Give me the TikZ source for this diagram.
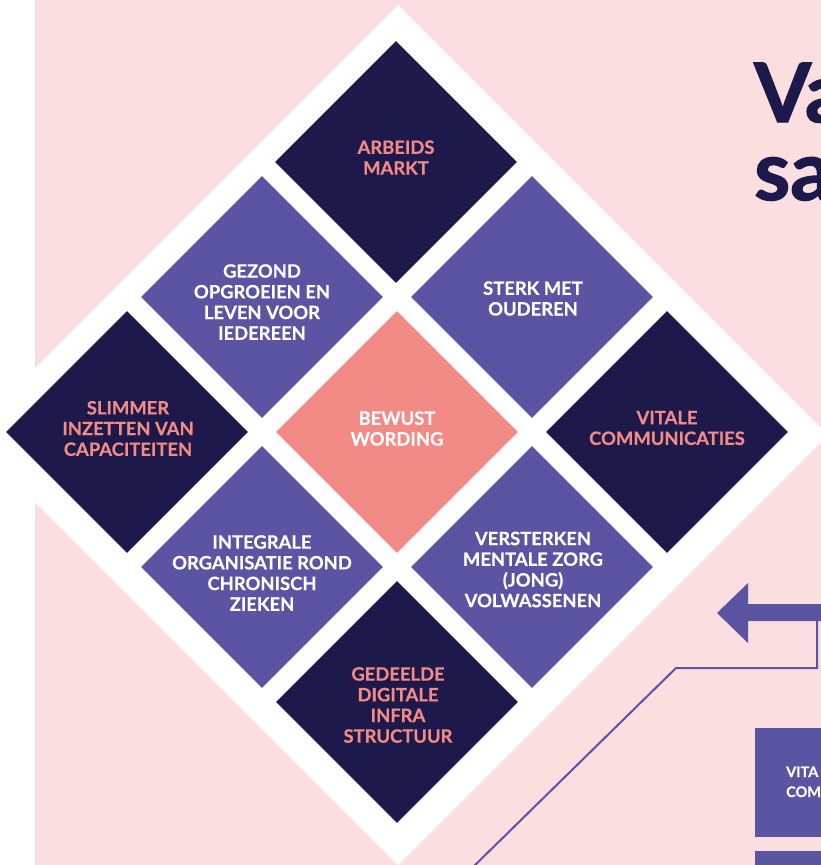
\documentclass[tikz,border=0pt]{standalone}
\usepackage{fontspec}
\setmainfont{Lato}
\newfontfamily\labelfont[FakeBold=0.35]{Lato}
\newfontfamily\titlefont[FakeBold=1.6]{Lato}
\usetikzlibrary{shapes.geometric}
\definecolor{navy}{HTML}{1D1A4B}
\definecolor{purp}{HTML}{5A54A3}
\definecolor{salmon}{HTML}{F28A86}
\definecolor{pinkbg}{HTML}{FBDEE0}
\begin{document}
\begin{tikzpicture}[x=1pt,y=-1pt,
  dia/.style={diamond, aspect=1, inner sep=0pt, minimum width=242pt, minimum height=242pt, draw=none},
  lbl/.style={align=center, font=\labelfont\bfseries\fontsize{18.4}{20.7}\selectfont, inner sep=0pt},
  big/.style={anchor=base west, inner sep=0pt, text=navy, font=\titlefont\bfseries\fontsize{82}{82}\selectfont},
  small/.style={anchor=base west, inner sep=0pt, text=white, align=left, font=\labelfont\bfseries\fontsize{14.5}{20}\selectfont}]
\useasboundingbox (0,0) rectangle (821,865);
\clip (0,0) rectangle (821,865);
\fill[white] (0,0) rectangle (821,865);
\fill[pinkbg] (35,0) rectangle (821,865);
% big white diamond
\fill[white] (398,5) -- (828,435) -- (398,865) -- (-32,435) -- cycle;
% inner diamonds
\node[dia, fill=navy]   (arb) at (396,162) {};
\node[dia, fill=purp]   (gez) at (262,297) {};
\node[dia, fill=purp]   (ste) at (532,297) {};
\node[dia, fill=navy]   (sli) at (127,432) {};
\node[dia, fill=salmon] (bew) at (397,432) {};
\node[dia, fill=navy]   (vit) at (667,432) {};
\node[dia, fill=purp]   (int) at (262,567) {};
\node[dia, fill=purp]   (ver) at (532,567) {};
\node[dia, fill=navy]   (ged) at (397,702) {};
% labels
\node[lbl, text=salmon] (arbT) at (396,157.5) {ARBEIDS\\MARKT};
\node[lbl, text=white]  (gezT) at (262,302) {GEZOND\\OPGROEIEN EN\\LEVEN VOOR\\IEDEREEN};
\node[lbl, text=white]  (steT) at (533,298.5) {STERK MET\\OUDEREN};
\node[lbl, text=salmon] (sliT) at (128,428.5) {SLIMMER\\INZETTEN VAN\\CAPACITEITEN};
\node[lbl, text=white]  (bewT) at (397,428.5) {BEWUST\\WORDING};
\node[lbl, text=salmon] (vitT) at (667,428) {VITALE\\COMMUNICATIES};
\node[lbl, text=white]  (intT) at (262,573) {INTEGRALE\\ORGANISATIE ROND\\CHRONISCH\\ZIEKEN};
\node[lbl, text=white]  (verT) at (533,569.5) {VERSTERKEN\\MENTALE ZORG\\(JONG)\\VOLWASSENEN};
\node[lbl, text=salmon] (gedT) at (398,705) {GEDEELDE\\DIGITALE\\INFRA\\STRUCTUUR};
% title (cut off at the edge, as in the reference)
\node[big] (t1) at (754,122) {Va};
\node[big] (t2) at (754,200) {sa};
% arrow
\coordinate (tip) at (717,613);
\fill[purp] (tip) -- (748,583) -- (748,604) -- (830,604) -- (830,621) -- (748,621) -- (748,643) -- cycle;
% thin connector
\coordinate (c1) at (817,621);
\coordinate (c2) at (817,668);
\coordinate (c3) at (676,668);
\coordinate (c4) at (470,870);
\draw[purp, line width=2pt] (c1) -- (c2) -- (c3) -- (c4);
% boxes at bottom right
\fill[purp] (755,728) rectangle (830,837);
\fill[purp] (755,851) rectangle (830,870);
\node[small] (bx) at (786,777) {VITA};
\node[small] (by) at (786,797) {COM};
\end{tikzpicture}
\end{document}
